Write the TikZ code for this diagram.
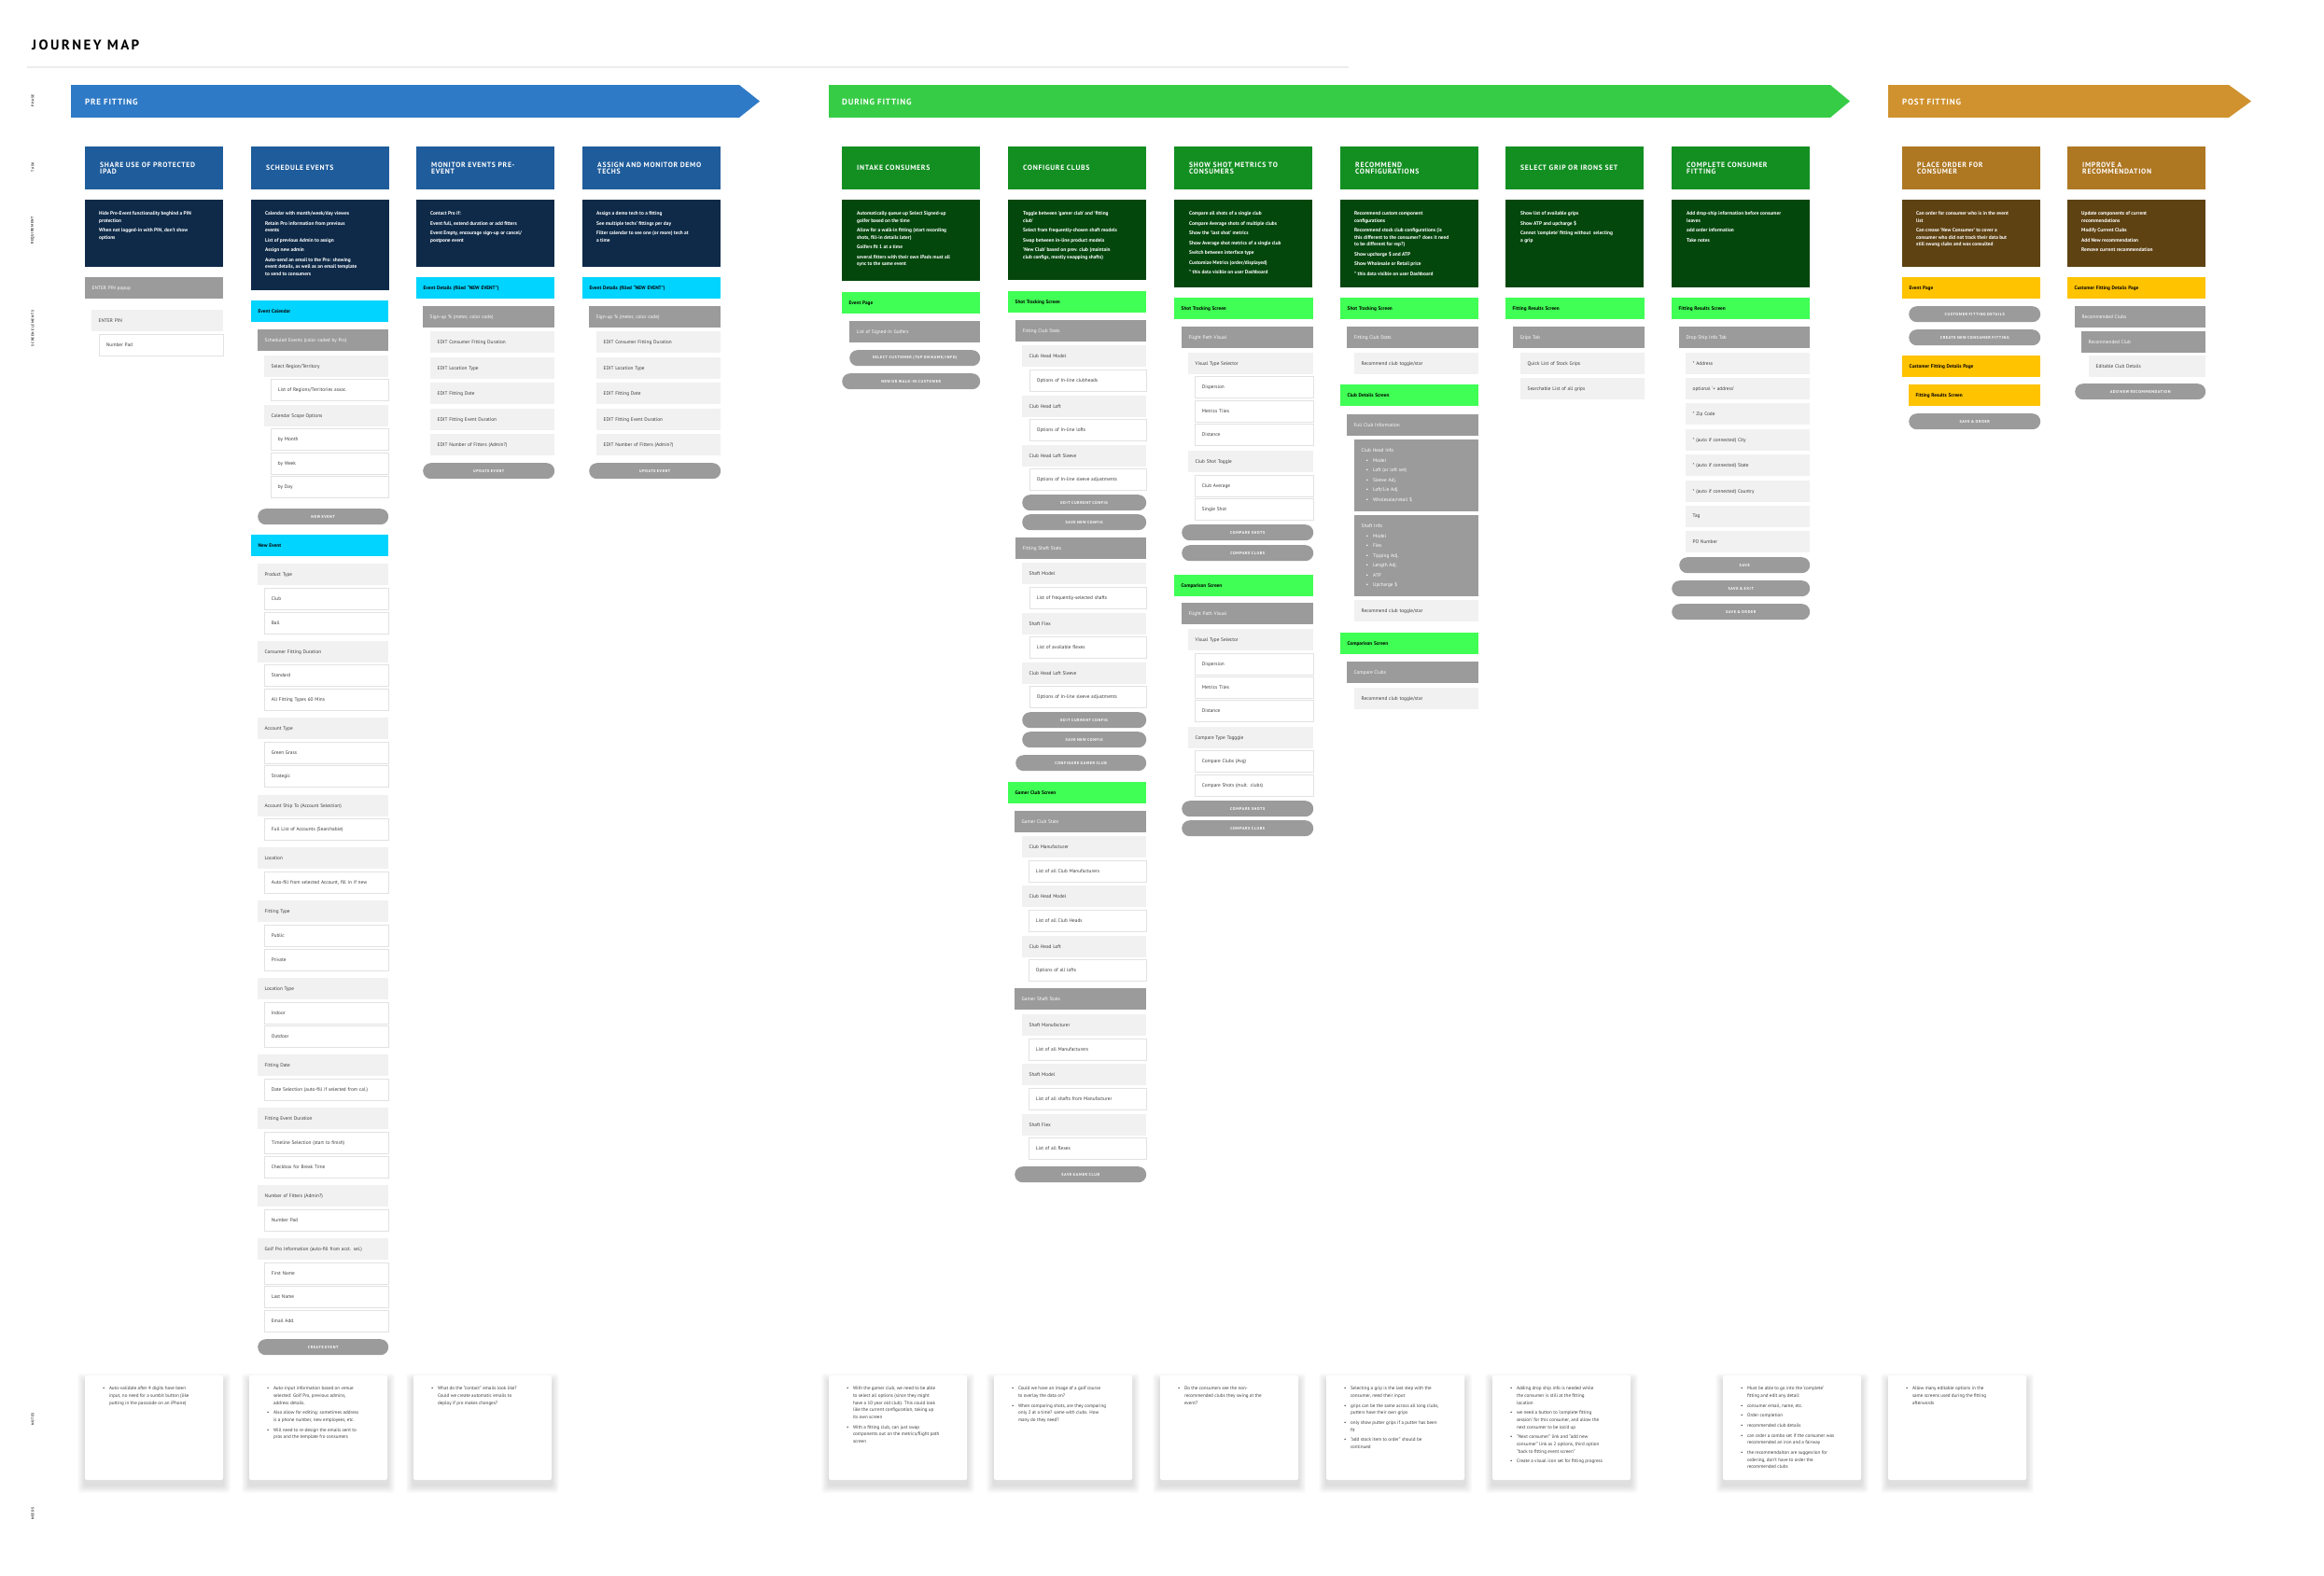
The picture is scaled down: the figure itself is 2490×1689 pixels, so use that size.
\documentclass[tikz,border=0pt]{standalone}
\usepackage{fontspec}
\setmainfont{PT Sans}
\newfontfamily\trackwide[LetterSpace=16]{PT Sans}
\newfontfamily\trackmid[LetterSpace=9]{PT Sans}
\newfontfamily\tracksmall[LetterSpace=14]{PT Sans}
\usepackage{tikz}
\usetikzlibrary{positioning}
\definecolor{prefill}{RGB}{47, 122, 198}
\definecolor{pretask}{RGB}{31, 92, 155}
\definecolor{prereq}{RGB}{14, 42, 72}
\definecolor{prescreen}{RGB}{0, 212, 255}
\definecolor{durfill}{RGB}{55, 204, 70}
\definecolor{durtask}{RGB}{19, 143, 34}
\definecolor{durreq}{RGB}{4, 71, 13}
\definecolor{durscreen}{RGB}{64, 255, 85}
\definecolor{postfill}{RGB}{208, 146, 46}
\definecolor{posttask}{RGB}{174, 119, 34}
\definecolor{postreq}{RGB}{94, 66, 18}
\definecolor{postscreen}{RGB}{255, 195, 0}
\definecolor{elgrayc}{RGB}{155, 155, 155}
\definecolor{ellightc}{RGB}{241, 241, 241}
\definecolor{elborder}{RGB}{226, 226, 226}
\definecolor{rulegray}{RGB}{236, 236, 236}
\definecolor{inkgray}{RGB}{60, 60, 60}

\newcommand\elfont{\fontsize{5.3}{6.2}\selectfont}
\newcommand\infofont{\fontsize{5.3}{10.5}\selectfont}
\newcommand\btnfont{\tracksmall\bfseries\fontsize{4.2}{5}\selectfont}
\newcommand\reqfont{\bfseries\fontsize{5.4}{7.5}\selectfont}
\newcommand\notefont{\fontsize{5.1}{7.7}\selectfont}
\newcommand\taskfont{\trackmid\bfseries\fontsize{7.7}{7.6}\selectfont}
\newcommand\rowfont{\tracksmall\bfseries\fontsize{3.8}{4}\selectfont}

% one column of screen elements: name, left, right, {dx/y/style/text}
\newcommand\elcol[4]{%
  \foreach \elx/\ely/\els/\elt [count=\n] in {#4} {%
    \pgfmathsetmacro\elw{#3-#2-\elx}%
    \pgfmathsetmacro\eltw{\elw-15}%
    \node[\els, minimum width=\elw pt, text width=\eltw pt] (#1-\n) at (#2+\elx,\ely) {\elt};
  }}
% bullet list for notes
\newcommand\blist[1]{\begin{tabular}{@{}l@{\hspace{4.5pt}}l@{}}#1\end{tabular}}
% note card: name, left x, body
\newcommand\notecard[3]{%
  \foreach \s in {1,...,8}
    \fill[black, opacity=0.014, rounded corners=3pt] (#2-\s,1474-\s+6) rectangle (#2+148+\s,1586+\s+6);
  \fill[white, rounded corners=2pt] (#2,1474) rectangle (#2+148,1586);
  \node[notetext] (#1) at (#2+19,1484) {#3};}

\begin{document}
\begin{tikzpicture}[x=1pt, y=-1pt,
    elbox/.style={anchor=north west, inner xsep=7.5pt, inner ysep=0pt, minimum height=23pt, align=left, font=\elfont},
    elgray/.style={elbox, fill=elgrayc, text=white},
    ellight/.style={elbox, fill=ellightc, text=inkgray},
    elwhite/.style={elbox, fill=white, draw=elborder, line width=0.8pt, text=inkgray},
    elbtn/.style={elbox, fill=elgrayc, text=white, rounded corners=8.5pt, minimum height=17pt, align=center, font=\btnfont},
    scrcyan/.style={elbox, fill=prescreen, text=black, font=\elfont\bfseries},
    scrgreen/.style={elbox, fill=durscreen, text=black, font=\elfont\bfseries},
    scryellow/.style={elbox, fill=postscreen, text=black, font=\elfont\bfseries},
    taskbox/.style={anchor=north west, minimum width=148pt, minimum height=46pt, text width=116pt, inner xsep=16pt, align=left, font=\taskfont, text=white},
    reqtext/.style={anchor=north west, inner sep=0pt, align=left, font=\reqfont, text=white},
    notetext/.style={anchor=north west, inner sep=0pt, font=\notefont, text=inkgray},
    phase/.style={anchor=west, inner sep=0pt, font=\trackmid\bfseries\fontsize{9}{9}\selectfont, text=white},
    rowlabel/.style={rotate=90, inner sep=0pt, font=\rowfont, text=black!75}]
\useasboundingbox (0,0) rectangle (2490,1689);

% title and row labels
\node[anchor=base west, inner sep=0pt, font=\trackwide\bfseries\fontsize{15}{16}\selectfont] (title) at (34,53) {JOURNEY MAP};
\draw[rulegray, line width=1.5pt] (29,72) -- (1445,72);
\node[rowlabel] (lphase) at (35,108) {PHASE};
\node[rowlabel] (ltask) at (35,179) {TASK};
\node[rowlabel] (lreq) at (35,247) {REQUIREMENT};
\node[rowlabel] (lscreen) at (35,352) {SCREEN ELEMENTS};
\node[rowlabel] (lnotes) at (35,1521) {NOTES};
\node[rowlabel] (lneeds) at (35,1622) {NEEDS};

% phases
\fill[prefill] (76,91) -- (792,91) -- (814,108.5) -- (792,126) -- (76,126) -- cycle;
\node[phase] (ppre) at (91,109) {PRE FITTING};
\fill[durfill] (888,91) -- (1961,91) -- (1982,108.5) -- (1961,126) -- (888,126) -- cycle;
\node[phase] (pdur) at (902,109) {DURING FITTING};
\fill[postfill] (2023,91) -- (2388,91) -- (2412,108.5) -- (2388,126) -- (2023,126) -- cycle;
\node[phase] (ppost) at (2038,109) {POST FITTING};

% tasks
\foreach \x/\t [count=\i] in {91/{SHARE USE OF PROTECTED\\IPAD}, 269/SCHEDULE EVENTS, 446/{MONITOR EVENTS PRE-\\EVENT}, 624/{ASSIGN AND MONITOR DEMO\\TECHS}}
  \node[taskbox, fill=pretask] (tpre\i) at (\x,157) {\t};
\foreach \x/\t [count=\i] in {902/INTAKE CONSUMERS, 1080/CONFIGURE CLUBS, 1258/{SHOW SHOT METRICS TO\\CONSUMERS}, 1436/{RECOMMEND\\CONFIGURATIONS}, 1613/SELECT GRIP OR IRONS SET, 1791/{COMPLETE CONSUMER\\FITTING}}
  \node[taskbox, fill=durtask] (tdur\i) at (\x,157) {\t};
\foreach \x/\t [count=\i] in {2038/{PLACE ORDER FOR\\CONSUMER}, 2215/{IMPROVE A\\RECOMMENDATION}}
  \node[taskbox, fill=posttask] (tpost\i) at (\x,157) {\t};

% requirements
\foreach \x/\h in {91/72, 269/97, 446/72, 624/72}
  \fill[prereq] (\x,214) rectangle +(148,\h);
\foreach \x/\h in {902/87, 1080/86, 1258/94, 1436/94, 1613/94, 1791/94}
  \fill[durreq] (\x,214) rectangle +(148,\h);
\foreach \x in {2038, 2215}
  \fill[postreq] (\x,214) rectangle +(148,72);

\node[reqtext] (rpre1) at (106,226.5) {Hide Pre-Event functionality beghind a PIN\\protection\\[3pt]When not logged-in with PIN, don't show\\options};
\node[reqtext] (rpre2) at (284,226.5) {Calendar with month/week/day viewes\\[3pt]Retain Pro information from previous\\events\\[3pt]List of previous Admin to assign\\[3pt]Assign new admin\\[3pt]Auto-send an email to the Pro: showing\\event details, as well as an email template\\to send to consumers};
\node[reqtext] (rpre3) at (461,226.5) {Contact Pro if:\\[3pt]Event full, extend duration or add fitters\\[3pt]Event Empty, encourage sign-up or cancel/\\postpone event};
\node[reqtext] (rpre4) at (639,226.5) {Assign a demo tech to a fitting\\[3pt]See multiple techs' fittings per day\\[3pt]Filter calendar to see one (or more) tech at\\a time};
\node[reqtext] (rdur1) at (918,226.5) {Automatically queue up Select Signed-up\\golfer based on the time\\[3pt]Allow for a walk-in fitting (start recording\\shots, fill-in details later)\\[3pt]Golfers fit 1 at a time\\[3pt]several fitters with their own iPads must all\\sync to the same event};
\node[reqtext] (rdur2) at (1096,226.5) {Toggle between 'gamer club' and 'fitting\\club'\\[3pt]Select from frequently-chosen shaft models\\[3pt]Swap between in-line product models\\[3pt]'New Club' based on prev. club (maintain\\club configs, mostly swapping shafts)};
\node[reqtext] (rdur3) at (1274,226.5) {Compare all shots of a single club\\[3pt]Compare Average shots of multiple clubs\\[3pt]Show the 'last shot' metrics\\[3pt]Show Average shot metrics of a single club\\[3pt]Switch between interface type\\[3pt]Customize Metrics (order/displayed)\\[3pt]* this data visible on user Dashboard};
\node[reqtext] (rdur4) at (1451,226.5) {Recommend custom component\\configurations\\[3pt]Recommend stock club configurations (is\\this different to the consumer? does it need\\to be different for rep?)\\[3pt]Show upcharge \$ and ATP\\[3pt]Show Wholesale or Retail price\\[3pt]* this data visible on user Dashboard};
\node[reqtext] (rdur5) at (1629,226.5) {Show list of available grips\\[3pt]Show ATP and upcharge \$\\[3pt]Cannot 'complete' fitting without \ selecting\\a grip};
\node[reqtext] (rdur6) at (1807,226.5) {Add drop-ship information before consumer\\leaves\\[3pt]add order information\\[3pt]Take notes};
\node[reqtext] (rpost1) at (2053,226.5) {Can order for consumer who is in the event\\list\\[3pt]Can crease 'New Consumer' to cover a\\consumer who did not track their data but\\still swung clubs and was consulted};
\node[reqtext] (rpost2) at (2230,226.5) {Update components of current\\recommendations\\[3pt]Modify Current Clubs\\[3pt]Add New recommendation\\[3pt]Remove current recommendation};

% screen elements, pre fitting
\elcol{pin}{91}{239}{0/297/elgray/ENTER PIN popup, 7/332/ellight/ENTER PIN, 15/358/elwhite/Number Pad}
\elcol{sched}{269}{416}{0/322/scrcyan/Event Calendar, 7/353/elgray/Scheduled Events (color coded by Pro),
  14/381/ellight/{Select Region/Territory}, 21/406/elwhite/{List of Regions/Territories assoc.},
  14/434/ellight/Calendar Scope Options, 21/459/elwhite/by Month, 21/485/elwhite/by Week, 21/510/elwhite/by Day,
  7/545/elbtn/NEW EVENT, 0/573/scrcyan/New Event,
  7/604/ellight/Product Type, 14/630/elwhite/Club, 14/656/elwhite/Ball,
  7/687/ellight/Consumer Fitting Duration, 14/712/elwhite/Standard, 14/738/elwhite/All Fitting Types 60 Mins,
  7/769/ellight/Account Type, 14/795/elwhite/Green Grass, 14/820/elwhite/Strategic,
  7/852/ellight/Account Ship To (Account Selection), 14/877/elwhite/Full List of Accounts (Searchable),
  7/908/ellight/Location, 14/934/elwhite/{Auto-fill from selected Account, fill in if new},
  7/965/ellight/Fitting Type, 14/991/elwhite/Public, 14/1017/elwhite/Private,
  7/1048/ellight/Location Type, 14/1074/elwhite/Indoor, 14/1099/elwhite/Outdoor,
  7/1130/ellight/Fitting Date, 14/1156/elwhite/Date Selection (auto-fill if selected from cal.),
  7/1187/ellight/Fitting Event Duration, 14/1213/elwhite/Timeline Selection (start to finish), 14/1239/elwhite/Checkbox for Break Time,
  7/1270/ellight/Number of Fitters (Admin?), 14/1296/elwhite/Number Pad,
  7/1327/ellight/Golf Pro Information (auto-fill from acct. sel.), 14/1353/elwhite/First Name, 14/1378/elwhite/Last Name, 14/1404/elwhite/Email Add.,
  7/1435/elbtn/CREATE EVENT}
\foreach \c/\L/\R in {mon/446/594, demo/624/772} {%
  \elcol{\c}{\L}{\R}{0/297/scrcyan/{Event Details (filled ``NEW EVENT'')}, 7/328/elgray/{Sign-up \% (meter, color code)},
    15/355/ellight/EDIT Consumer Fitting Duration, 15/383/ellight/EDIT Location Type, 15/410/ellight/EDIT Fitting Date,
    15/438/ellight/EDIT Fitting Event Duration, 15/465/ellight/EDIT Number of Fitters (Admin?), 7/496/elbtn/UPDATE EVENT}}

% screen elements, during fitting
\elcol{intake}{902}{1050}{0/313/scrgreen/Event Page, 8/344/elgray/List of Signed-In Golfers,
  8/375/elbtn/{SELECT CUSTOMER (TAP ON NAME/INFO)}, 0/400/elbtn/NEW OR WALK-IN CUSTOMER}
\elcol{config}{1080}{1228}{0/312/scrgreen/Shot Tracking Screen, 8/343/elgray/Fitting Club Stats,
  15/370/ellight/Club Head Model, 23/396/elwhite/Options of In-line clubheads,
  15/424/ellight/Club Head Loft, 23/449/elwhite/Options of In-line lofts,
  15/477/ellight/Club Head Loft Sleeve, 23/502/elwhite/Options of In-line sleeve adjustments,
  15/530/elbtn/EDIT CURRENT CONFIG, 15/551/elbtn/SAVE NEW CONFIG,
  8/576/elgray/Fitting Shaft Stats,
  15/603/ellight/Shaft Model, 23/629/elwhite/List of frequently-selected shafts,
  15/657/ellight/Shaft Flex, 23/682/elwhite/List of available flexes,
  15/710/ellight/Club Head Loft Sleeve, 23/735/elwhite/Options of In-line sleeve adjustments,
  15/763/elbtn/EDIT CURRENT CONFIG, 15/784/elbtn/SAVE NEW CONFIG, 8/809/elbtn/CONFIGURE GAMER CLUB,
  0/838/scrgreen/Gamer Club Screen, 7/869/elgray/Gamer Club Stats,
  15/896/ellight/Club Manufacturer, 22/922/elwhite/List of all Club Manufacturers,
  15/949/ellight/Club Head Model, 22/975/elwhite/List of all Club Heads,
  15/1003/ellight/Club Head Loft, 22/1028/elwhite/Options of all lofts,
  7/1059/elgray/Gamer Shaft Stats,
  15/1087/ellight/Shaft Manufacturer, 22/1113/elwhite/List of all Manufacturers,
  15/1140/ellight/Shaft Model, 22/1166/elwhite/List of all shafts from Manufacturer,
  15/1194/ellight/Shaft Flex, 22/1219/elwhite/List of all flexes,
  7/1250/elbtn/SAVE GAMER CLUB}
\elcol{metrics}{1258}{1407}{0/319/scrgreen/Shot Tracking Screen, 8/350/elgray/Flight Path Visual,
  15/378/ellight/Visual Type Selector, 22/403/elwhite/Dispersion, 22/429/elwhite/Metrics Tiles, 22/454/elwhite/Distance,
  15/483/ellight/Club Shot Toggle, 22/509/elwhite/Club Average, 22/534/elwhite/Single Shot,
  8/562/elbtn/COMPARE SHOTS, 8/584/elbtn/COMPARE CLUBS,
  0/616/scrgreen/Comparison Screen, 8/646/elgray/Flight Path Visual,
  15/674/ellight/Visual Type Selector, 22/700/elwhite/Dispersion, 22/725/elwhite/Metrics Tiles, 22/750/elwhite/Distance,
  15/779/ellight/Compare Type Togggle, 22/804/elwhite/Compare Clubs (Avg), 22/830/elwhite/Compare Shots (mult. clubs),
  8/858/elbtn/COMPARE SHOTS, 8/879/elbtn/COMPARE CLUBS}
\elcol{recom}{1436}{1584}{0/319/scrgreen/Shot Tracking Screen, 7/350/elgray/Fitting Club Stats,
  15/378/ellight/{Recommend club toggle/star},
  0/412/scrgreen/Club Details Screen, 7/444/elgray/Full Club Information,
  15/643/ellight/{Recommend club toggle/star},
  0/678/scrgreen/Comparison Screen, 7/709/elgray/Compare Clubs,
  15/737/ellight/{Recommend club toggle/star}}
\node[elgray, minimum width=133pt, minimum height=77pt, text width=118pt, font=\infofont] (headinfo) at (1451,471)
  {Club Head Info\\ \hspace*{5pt}\textbullet\hspace{5pt}Model\\ \hspace*{5pt}\textbullet\hspace{5pt}Loft (or loft set)\\
   \hspace*{5pt}\textbullet\hspace{5pt}Sleeve Adj.\\ \hspace*{5pt}\textbullet\hspace{5pt}Loft/Lie Adj.\\
   \hspace*{5pt}\textbullet\hspace{5pt}Wholesale/retail \$};
\node[elgray, minimum width=133pt, minimum height=87pt, text width=118pt, font=\infofont] (shaftinfo) at (1451,552)
  {Shaft Info\\ \hspace*{5pt}\textbullet\hspace{5pt}Model\\ \hspace*{5pt}\textbullet\hspace{5pt}Flex\\
   \hspace*{5pt}\textbullet\hspace{5pt}Tipping Adj.\\ \hspace*{5pt}\textbullet\hspace{5pt}Length Adj.\\
   \hspace*{5pt}\textbullet\hspace{5pt}ATP\\ \hspace*{5pt}\textbullet\hspace{5pt}Upcharge \$};
\elcol{grip}{1613}{1762}{0/319/scrgreen/Fitting Results Screen, 8/350/elgray/Grips Tab,
  16/378/ellight/Quick List of Stock Grips, 16/405/ellight/Searchable List of all grips}
\elcol{done}{1791}{1939}{0/319/scrgreen/Fitting Results Screen, 8/350/elgray/Drop Ship Info Tab,
  15/378/ellight/* Address, 15/405/ellight/optional '+ address', 15/432/ellight/* Zip Code,
  15/460/ellight/* (auto if connected) City, 15/487/ellight/* (auto if connected) State,
  15/515/ellight/* (auto if connected) Country, 15/542/ellight/Tag, 15/569/ellight/PO Number,
  8/597/elbtn/SAVE, 0/622/elbtn/SAVE \& EXIT, 0/647/elbtn/SAVE \& ORDER}

% screen elements, post fitting
\elcol{order}{2038}{2186}{0/297/scryellow/Event Page, 7/328/elbtn/CUSTOMER FITTING DETAILS,
  7/353/elbtn/CREATE NEW CONSUMER FITTING, 0/381/scryellow/Customer Fitting Details Page,
  7/412/scryellow/Fitting Results Screen, 7/443/elbtn/SAVE \& ORDER}
\elcol{improve}{2215}{2363}{0/297/scryellow/Customer Fitting Details Page, 8/328/elgray/Recommended Clubs,
  15/355/elgray/Recommended Club, 23/381/ellight/Editable Club Details, 8/411/elbtn/ADD NEW RECOMMENDATION}

% notes
\notecard{npre1}{91}{\blist{\textbullet & Auto-validate after 4 digits have been\\ & input, no need for a sumbit button (like\\ & putting in the passcode on an iPhone)}}
\notecard{npre2}{267}{\blist{\textbullet & Auto-input information based on venue\\ & selected: Golf Pro, previous admins,\\ & address details.\\[3pt]
  \textbullet & Also allow for editing: sometimes address\\ & is a phone number, new employees, etc.\\[3pt]
  \textbullet & Will need to re-design the emails sent to\\ & pros and the template fro consumers}}
\notecard{npre3}{443}{\blist{\textbullet & What do the "contact" emails look like?\\ & Could we create automatic emails to\\ & deploy if pro makes changes?}}
\notecard{ndur1}{888}{\blist{\textbullet & With the gamer club, we need to be able\\ & to select all options (since they might\\ & have a 10 year old club). This could look\\ & like the current configuration, taking up\\ & its own screen\\[3pt]
  \textbullet & With a fitting club, can just swap\\ & components out on the metrics/flight path\\ & screen}}
\notecard{ndur2}{1065}{\blist{\textbullet & Could we have an image of a golf course\\ & to overlay the data on?\\[3pt]
  \textbullet & When comparing shots, are they comparing\\ & only 2 at a time? same with clubs. How\\ & many do they need?}}
\notecard{ndur3}{1243}{\blist{\textbullet & Do the consumers see the non-\\ & recommended clubs they swing at the\\ & event?}}
\notecard{ndur4}{1421}{\blist{\textbullet & Selecting a grip is the last step with the\\ & consumer, need their input\\[3pt]
  \textbullet & grips can be the same across all long clubs,\\ & putters have their own grips\\[3pt]
  \textbullet & only show putter grips if a putter has been\\ & fit\\[3pt]
  \textbullet & "add stock item to order" should be\\ & continued}}
\notecard{ndur5}{1599}{\blist{\textbullet & Adding drop ship info is needed while\\ & the consumer is still at the fitting\\ & location\\[3pt]
  \textbullet & we need a button to 'complete fitting\\ & session' for this consumer, and allow the\\ & next consumer to be loo'd up\\[3pt]
  \textbullet & "Next consumer" link and "add new\\ & consumer" link as 2 options, third option\\ & "back to fitting event screen"\\[3pt]
  \textbullet & Create a visual icon set for fitting progress}}
\notecard{npost1}{1846}{\blist{\textbullet & Must be able to go into the 'complete'\\ & fitting and edit any detail:\\[3pt]
  \textbullet & consumer email, name, etc.\\[3pt]
  \textbullet & Order completion\\[3pt]
  \textbullet & recommended club details\\[3pt]
  \textbullet & can order a combo set if the consumer was\\ & recommended an iron and a fairway\\[3pt]
  \textbullet & the recommendaiton are suggesrion for\\ & ordering, don't have to order the\\ & recommended clubs}}
\notecard{npost2}{2023}{\blist{\textbullet & Allow many editable options in the\\ & same screens used during the fitting\\ & afterwords}}
\end{tikzpicture}
\end{document}
